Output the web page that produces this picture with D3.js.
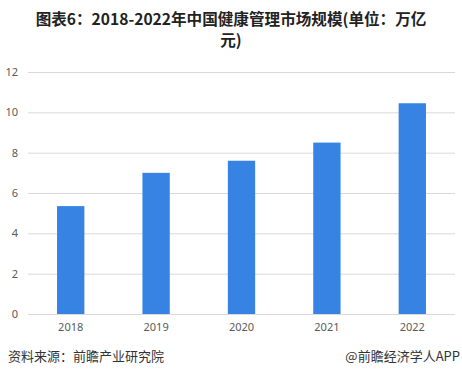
<!DOCTYPE html>
<html>
<head>
<meta charset="utf-8">
<script src="https://cdn.jsdelivr.net/npm/d3@7"></script>
<style>
  body { margin: 0; background: #fff; }
  svg { display: block; font-family: "Noto Sans CJK SC", "Noto Sans", sans-serif; }
</style>
</head>
<body>
<script>
// DATA
const years = ["2018", "2019", "2020", "2021", "2022"];
const marketSize = [5.35, 7.0, 7.6, 8.5, 10.45];
const yTicks = [0, 2, 4, 6, 8, 10, 12];
const titleLines = ["图表6：2018-2022年中国健康管理市场规模(单位：万亿", "元)"];
const sourceText = "资料来源：前瞻产业研究院";
const brandText = "@前瞻经济学人APP";

const W = 462, H = 377;
const svg = d3.select("body").append("svg")
    .attr("width", W)
    .attr("height", H);

// TITLE (wrapped into two lines)
svg.selectAll("text.title")
    .data(titleLines)
    .enter().append("text")
    .attr("class", "title")
    .attr("x", W / 2)
    .attr("y", (d, i) => 25 + i * 21)
    .attr("text-anchor", "middle")
    .attr("font-size", "15.6px")
    .attr("font-weight", "bold")
    .attr("fill", "#222")
    .text(d => d);

// SCALES
const xScale = d3.scaleBand()
    .domain(years)
    .range([28, 455])
    .paddingInner(0.68)
    .paddingOuter(0.34);

const yScale = d3.scaleLinear()
    .domain([0, 12])
    .range([314, 72]);

// GRIDLINES
svg.append("g")
    .selectAll("line")
    .data(yTicks)
    .enter().append("line")
    .attr("x1", 28)
    .attr("x2", 455)
    .attr("y1", d => yScale(d) + 0.5)
    .attr("y2", d => yScale(d) + 0.5)
    .attr("stroke", "#d9d9d9")
    .attr("stroke-width", 1);

// Y AXIS LABELS
const yAxis = d3.axisLeft(yScale).tickValues(yTicks).tickSize(0).tickPadding(0);
svg.append("g")
    .attr("transform", "translate(18,0)")
    .call(yAxis)
    .call(g => g.select(".domain").remove())
    .call(g => g.selectAll("text")
        .attr("fill", "#595959")
        .attr("font-size", "11px")
        .attr("font-family", "'Noto Sans', sans-serif"));

// BARS
svg.append("g")
    .selectAll("rect")
    .data(marketSize)
    .enter().append("rect")
    .attr("x", (d, i) => xScale(years[i]))
    .attr("y", d => yScale(d))
    .attr("width", xScale.bandwidth())
    .attr("height", d => yScale(0) - yScale(d))
    .attr("fill", "#3683e4");

// X AXIS LABELS
const xAxis = d3.axisBottom(xScale).tickSize(0).tickPadding(9);
svg.append("g")
    .attr("transform", "translate(0,314)")
    .call(xAxis)
    .call(g => g.select(".domain").remove())
    .call(g => g.selectAll("text")
        .attr("fill", "#595959")
        .attr("font-size", "11px")
        .attr("font-family", "'Noto Sans', sans-serif"));

// FOOTER
svg.append("text")
    .attr("x", 8)
    .attr("y", 361)
    .attr("font-size", "13px")
    .attr("fill", "#333")
    .text(sourceText);

svg.append("text")
    .attr("x", 460)
    .attr("y", 361)
    .attr("text-anchor", "end")
    .attr("font-size", "13px")
    .attr("fill", "#333")
    .text(brandText);
</script>
</body>
</html>
